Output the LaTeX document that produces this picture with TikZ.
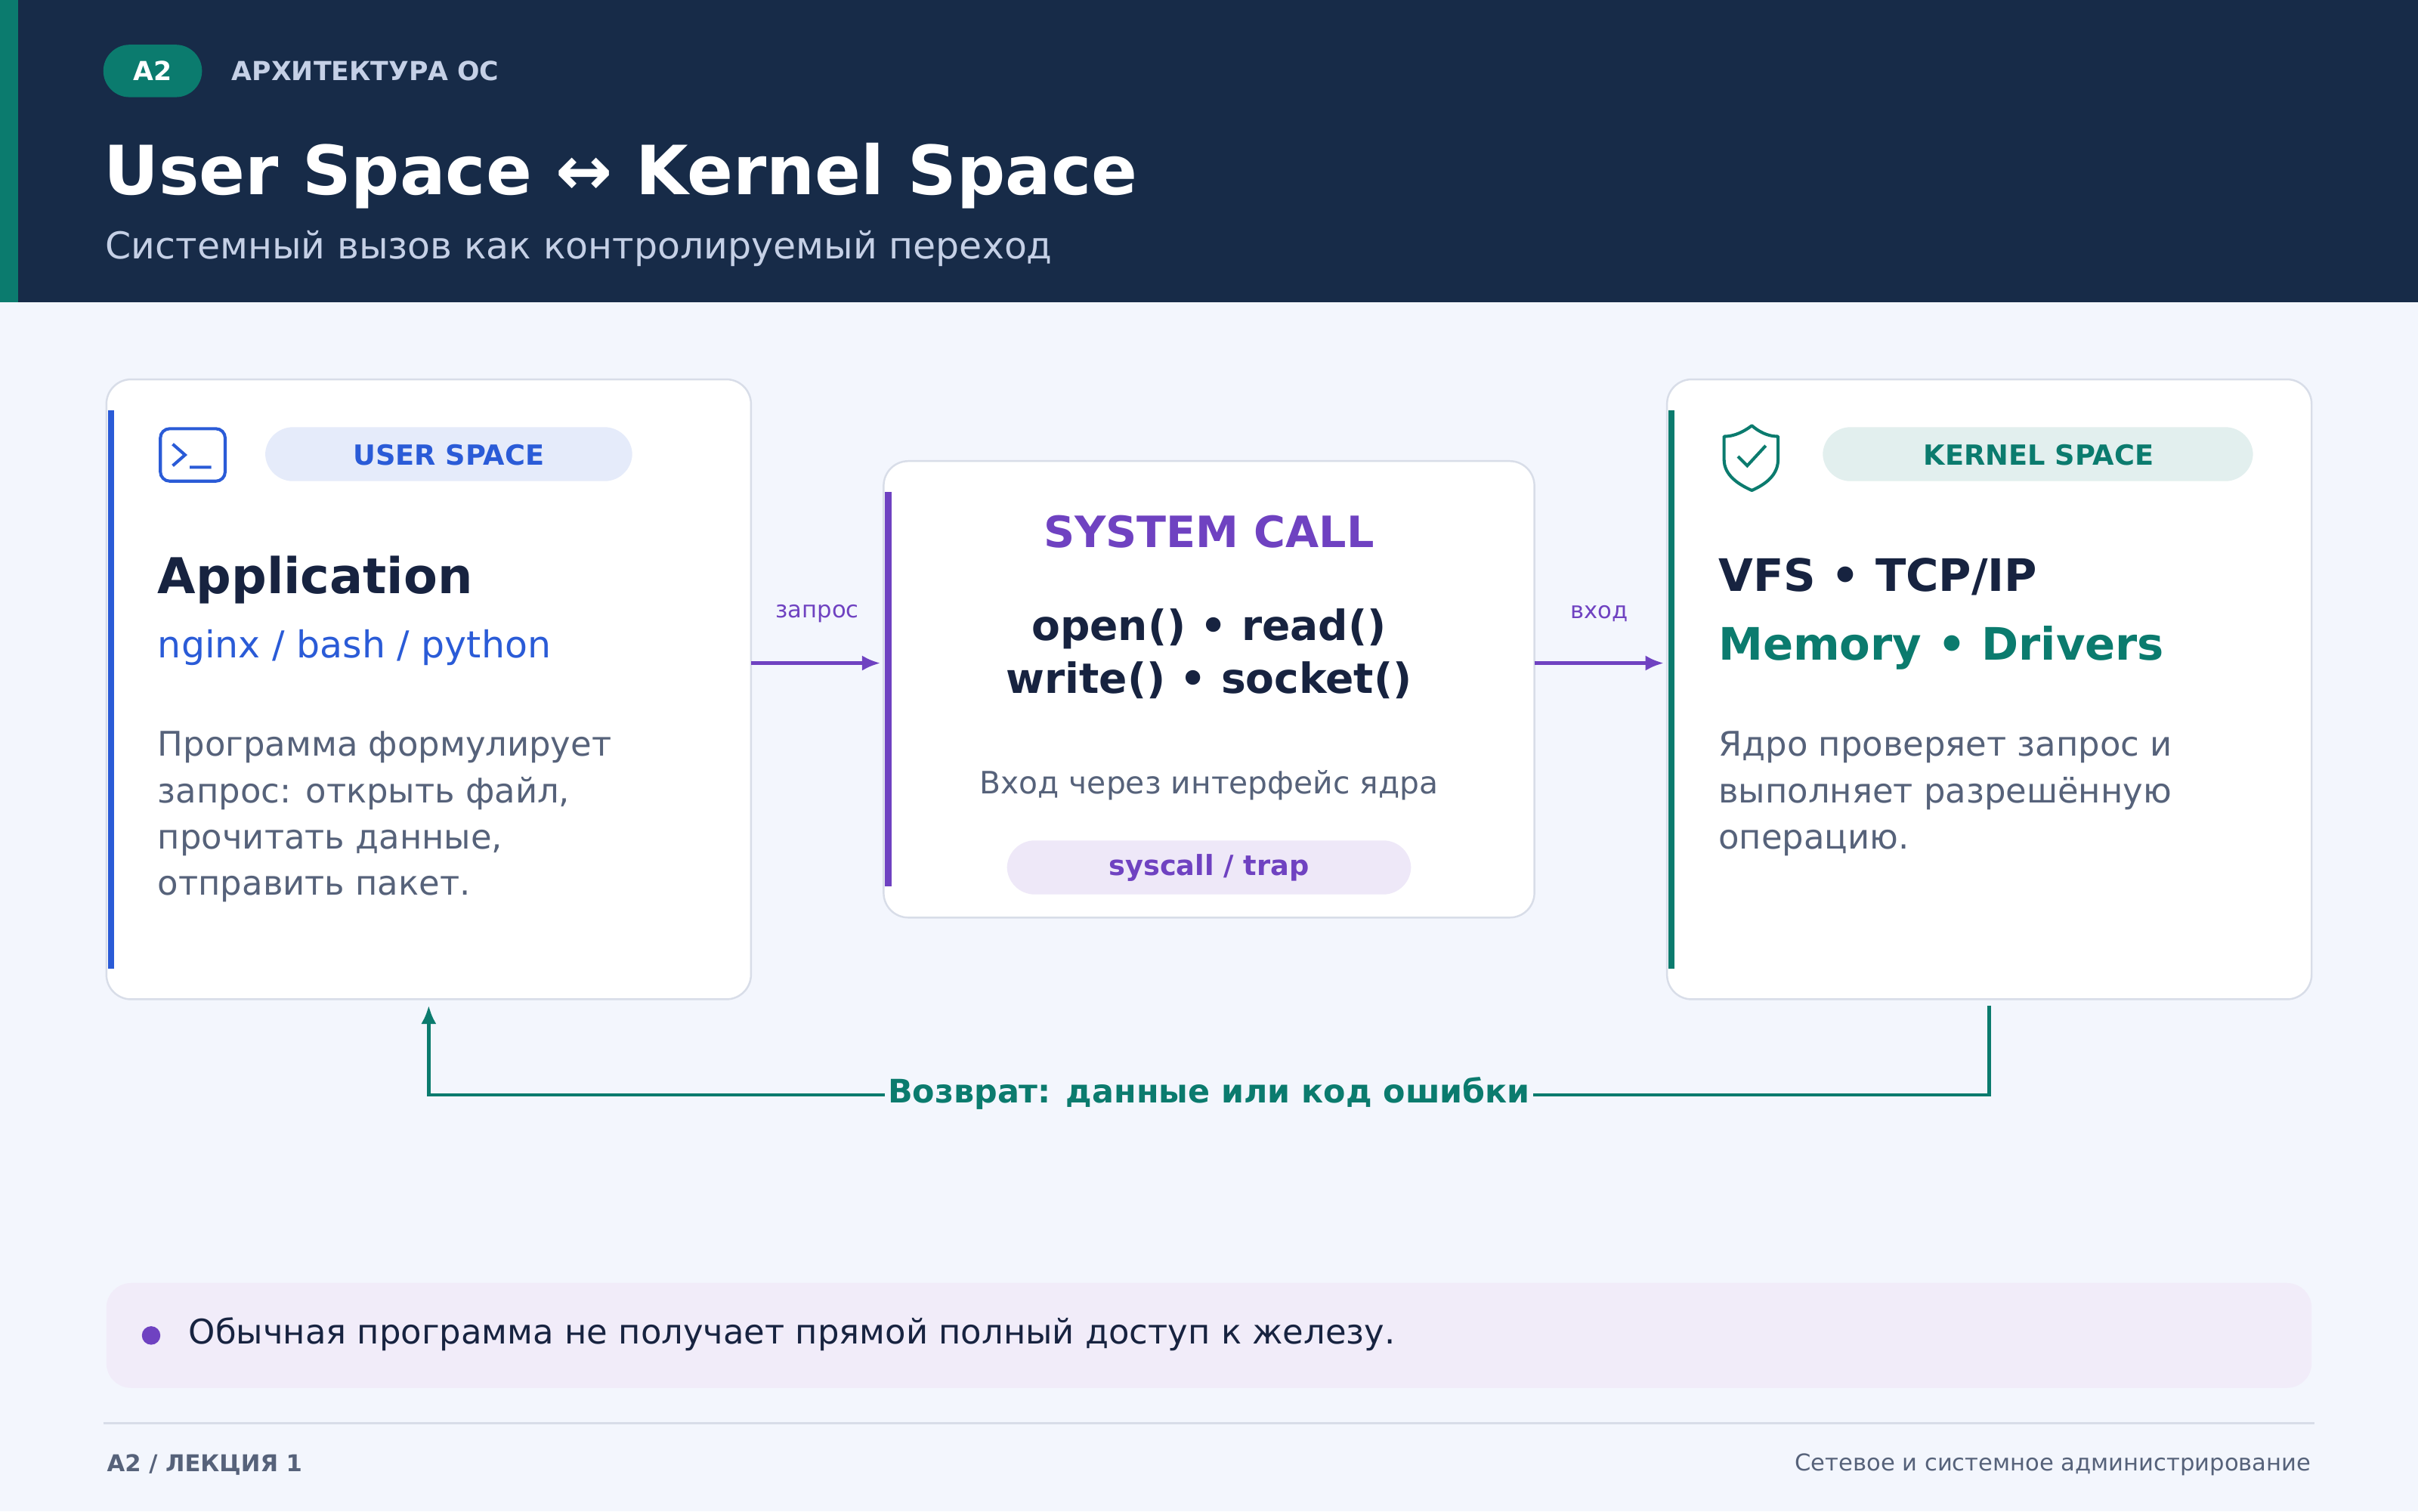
\documentclass[tikz,border=0pt]{standalone}
\usepackage{fontspec}
\setmainfont{DejaVu Sans}
\usetikzlibrary{arrows.meta}
\definecolor{navy}{HTML}{172B48}
\definecolor{teal}{HTML}{0B7B6E}
\definecolor{blu}{HTML}{2A5BD7}
\definecolor{purp}{HTML}{6F42C1}
\definecolor{bg}{HTML}{F3F6FD}
\definecolor{gtxt}{HTML}{56627A}
\definecolor{dark}{HTML}{172340}
\definecolor{bord}{HTML}{D8DDE8}
\definecolor{hdr}{HTML}{C5D0E6}
\tikzset{
 card/.style={draw=bord,line width=0.6pt,fill=white,rounded corners=8pt},
 pill/.style={rounded corners=9pt},
 t/.style={inner sep=0pt},
 arr/.style={line width=1.3pt,-{Latex[length=6pt,width=5pt]}},
}
\begin{document}
\begin{tikzpicture}[x=0.5pt,y=-0.5pt]
\useasboundingbox (0,0) rectangle (1568,980);
\fill[bg] (0,0) rectangle (1568,980);
\fill[navy] (0,0) rectangle (1568,196);
\fill[teal] (0,0) rectangle (12,196);
\fill[teal,rounded corners=8.5pt] (67,29) rectangle (131,63);
\node[t,text=white,font=\fontsize{8.5}{10}\selectfont\bfseries] (a2) at (99,46) {A2};
\node[t,anchor=west,text=hdr,font=\fontsize{8.5}{10}\selectfont\bfseries] (arch) at (150,46) {АРХИТЕКТУРА ОС};
\node[t,anchor=west,text=white,font=\fontsize{22}{26}\selectfont\bfseries] (title) at (67,114) {User Space ↔ Kernel Space};
\node[t,anchor=west,text=hdr,font=\fontsize{12}{14}\selectfont] (sub) at (68,161) {Системный вызов как контролируемый переход};
% card 1
\draw[card] (69,246) rectangle (487,648);
\coordinate (c1s) at (278,652);
\fill[blu] (70,266) rectangle (74,628);
\draw[blu,line width=1pt,rounded corners=3pt] (104,278) rectangle (146,312);
\draw[blu,line width=1pt] (112,288) -- (120,295) -- (112,302) (123,303) -- (137,303);
\fill[blu!12,pill] (172,277) rectangle (410,312);
\node[t,text=blu,font=\fontsize{9}{11}\selectfont\bfseries] (us) at (291,295) {USER SPACE};
\node[t,anchor=west,text=dark,font=\fontsize{16}{19}\selectfont\bfseries] (app) at (102,376) {Application};
\node[t,anchor=west,text=blu,font=\fontsize{12}{15}\selectfont] (ngx) at (102,420) {nginx / bash / python};
\node[t,anchor=north west,align=left,text=gtxt,font=\fontsize{11}{15}\selectfont] (p1) at (102,474) {Программа формулирует\\запрос: открыть файл,\\прочитать данные,\\отправить пакет.};
% card 2
\draw[card] (573,299) rectangle (995,595);
\fill[purp] (574,319) rectangle (578,575);
\node[t,text=purp,font=\fontsize{14}{17}\selectfont\bfseries] (sc) at (784,345) {SYSTEM CALL};
\node[t,align=center,text=dark,font=\fontsize{13.5}{17}\selectfont\bfseries] (calls) at (784,424) {open() • read()\\write() • socket()};
\node[t,text=gtxt,font=\fontsize{10}{12}\selectfont] (vh) at (784,509) {Вход через интерфейс ядра};
\fill[purp!12,pill] (653,545) rectangle (915,580);
\node[t,text=purp,font=\fontsize{9}{11}\selectfont\bfseries] (trap) at (784,563) {syscall / trap};
% card 3
\draw[card] (1081,246) rectangle (1499,648);
\fill[teal] (1082,266) rectangle (1086,628);
\draw[teal,line width=1pt,line join=round] (1136,276) .. controls (1128,282) and (1122,283) .. (1118,283) -- (1118,298) .. controls (1118,308) and (1127,314) .. (1136,318) .. controls (1145,314) and (1153,308) .. (1153,298) -- (1153,283) .. controls (1149,283) and (1143,282) .. (1136,276) -- cycle;
\draw[teal,line width=1pt] (1127,296) -- (1133,302) -- (1145,289);
\fill[teal!12,pill] (1182,277) rectangle (1461,312);
\node[t,text=teal,font=\fontsize{9}{11}\selectfont\bfseries] (ks) at (1322,295) {KERNEL SPACE};
\node[t,anchor=west,text=dark,font=\fontsize{14.5}{18}\selectfont\bfseries] (vfs) at (1114,374) {VFS • TCP/IP};
\node[t,anchor=west,text=teal,font=\fontsize{14.5}{18}\selectfont\bfseries] (mem) at (1114,420) {Memory • Drivers};
\node[t,anchor=north west,align=left,text=gtxt,font=\fontsize{11}{15}\selectfont] (p3) at (1114,474) {Ядро проверяет запрос и\\выполняет разрешённую\\операцию.};
% arrows
\coordinate (a1) at (487,430); \coordinate (b1) at (571,430);
\coordinate (a2) at (995,430); \coordinate (b2) at (1079,430);
\draw[arr,purp] (a1) -- (b1);
\draw[arr,purp] (a2) -- (b2);
\node[t,text=purp,font=\fontsize{7.5}{9}\selectfont] (lq) at (530,398) {запрос};
\node[t,text=purp,font=\fontsize{7.5}{9}\selectfont] (lv) at (1037,398) {вход};
\coordinate (r0) at (1290,652);
\draw[arr,teal,line width=1.2pt] (r0) -- (1290,710) -- (278,710) -- (c1s);
\node[fill=bg,inner sep=1pt,text=teal,font=\fontsize{10.5}{12}\selectfont\bfseries] (ret) at (784,709) {Возврат: данные или код ошибки};
% note
\fill[purp!10,rounded corners=8pt] (69,832) rectangle (1499,900);
\fill[purp] (98,866) circle (6);
\node[t,anchor=west,text=dark,font=\fontsize{11}{13}\selectfont] (note) at (122,865) {Обычная программа не получает прямой полный доступ к железу.};
\draw[bord,line width=0.7pt] (67,923) -- (1501,923);
\node[t,anchor=west,text=gtxt,font=\fontsize{7.5}{9}\selectfont\bfseries] (f1) at (69,950) {A2 / ЛЕКЦИЯ 1};
\node[t,anchor=east,text=gtxt,font=\fontsize{7.5}{9}\selectfont] (f2) at (1499,950) {Сетевое и системное администрирование};
\end{tikzpicture}
\end{document}
